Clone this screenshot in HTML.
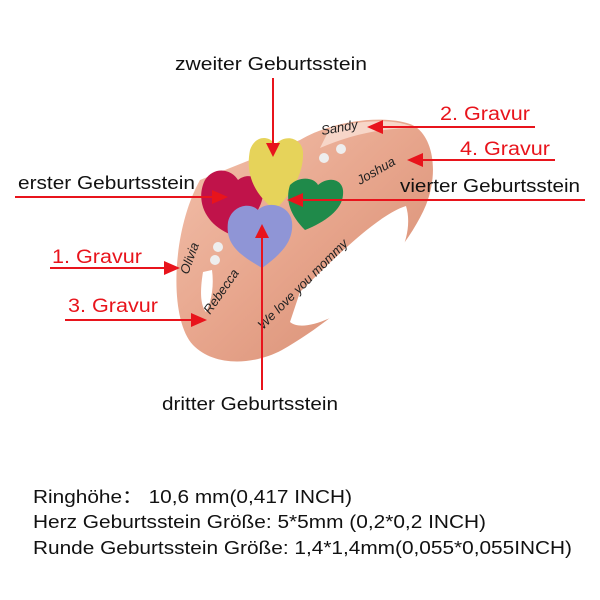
<!DOCTYPE html>
<html><head><meta charset="utf-8"><style>
html,body{margin:0;padding:0;background:#fff}
svg{display:block}
text{font-family:"Liberation Sans",sans-serif}
</style></head><body>
<svg width="600" height="600" viewBox="0 0 600 600">
<defs>
<linearGradient id="rg" x1="0" y1="0" x2="1" y2="1">
<stop offset="0" stop-color="#f3c2ad"/><stop offset="0.5" stop-color="#e7a58c"/><stop offset="1" stop-color="#d48a70"/>
</linearGradient>
</defs>
<path d="M200,180 C172,230 168,318 193,345 C213,366 252,366 282,350 C335,320 402,262 426,205 C440,170 432,132 410,124 C380,114 330,122 300,140 Z" fill="url(#rg)"/>
<path d="M300,292 C340,252 380,214 406,206 C414,232 400,270 362,300 C332,320 302,332 290,322 Z" fill="#fff"/>
<path d="M203,272 C200,290 200,305 206,312 C212,300 214,285 212,270 Z" fill="#fff"/>
<path d="M330,128 C370,118 400,120 415,128 C380,128 350,135 320,148 Z" fill="#f7d6c8"/>
<path d="M232,235 C205,225 195,200 205,180 C215,165 232,170 238,180 C250,170 268,180 262,200 C258,215 245,228 232,235Z" fill="#c0134a"/>
<path d="M275,210 C255,195 245,175 250,150 C255,135 270,135 275,145 C285,133 302,138 303,152 C304,175 290,195 275,210Z" fill="#e6d35a"/>
<path d="M305,230 C290,215 285,200 290,185 C300,175 315,178 318,185 C330,175 345,180 343,195 C342,210 325,222 305,230Z" fill="#1f8a4a"/>
<path d="M262,268 C240,255 225,245 228,222 C232,205 250,202 258,210 C268,200 290,205 292,222 C294,242 280,255 262,268Z" fill="#8f95d6"/>
<circle cx="215" cy="260" r="5" fill="#eee"/><circle cx="218" cy="247" r="5" fill="#eee"/>
<circle cx="324" cy="158" r="5" fill="#eee"/><circle cx="341" cy="149" r="5" fill="#eee"/>
<g fill="#222" font-family="Liberation Serif,serif" font-style="italic" font-size="13">
<text transform="translate(322,135) rotate(-10)">Sandy</text>
<text transform="translate(360,185) rotate(-30)">Joshua</text>
<text transform="translate(188,275) rotate(-70)">Olivia</text>
<text transform="translate(210,315) rotate(-55)">Rebecca</text>
<text transform="translate(263,330) rotate(-45)">We love you mommy</text>
</g>
<g stroke="#e8141c" stroke-width="2" fill="none">
<line x1="273" y1="78" x2="273" y2="150"/>
<line x1="262" y1="390" x2="262" y2="230"/>
<line x1="375" y1="127" x2="535" y2="127"/>
<line x1="415" y1="160" x2="555" y2="160"/>
<line x1="15" y1="197" x2="220" y2="197"/>
<line x1="295" y1="200" x2="585" y2="200"/>
<line x1="50" y1="268" x2="172" y2="268"/>
<line x1="65" y1="320" x2="200" y2="320"/>
</g>
<g fill="#e8141c">
<polygon points="266,143 280,143 273,157"/>
<polygon points="255,238 269,238 262,224"/>
<polygon points="367,127 383,120 383,134"/>
<polygon points="407,160 423,153 423,167"/>
<polygon points="228,197 212,190 212,204"/>
<polygon points="287,200 303,193 303,207"/>
<polygon points="180,268 164,261 164,275"/>
<polygon points="207,320 191,313 191,327"/>
</g>
<g font-size="18" fill="#111">
<text x="175" y="70" textLength="192" lengthAdjust="spacingAndGlyphs">zweiter Geburtsstein</text>
<text x="18" y="189" textLength="177" lengthAdjust="spacingAndGlyphs">erster Geburtsstein</text>
<text x="400" y="192" textLength="180" lengthAdjust="spacingAndGlyphs">vierter Geburtsstein</text>
<text x="162" y="410" textLength="176" lengthAdjust="spacingAndGlyphs">dritter Geburtsstein</text>
<text x="33" y="503" textLength="319" lengthAdjust="spacingAndGlyphs">Ringhöhe：  10,6 mm(0,417 INCH)</text>
<text x="33" y="528" textLength="453" lengthAdjust="spacingAndGlyphs">Herz Geburtsstein Größe: 5*5mm (0,2*0,2 INCH)</text>
<text x="33" y="554" textLength="539" lengthAdjust="spacingAndGlyphs">Runde Geburtsstein Größe: 1,4*1,4mm(0,055*0,055INCH)</text>
</g>
<g font-size="19" fill="#e8141c">
<text x="440" y="120" textLength="90" lengthAdjust="spacingAndGlyphs">2. Gravur</text>
<text x="460" y="155" textLength="90" lengthAdjust="spacingAndGlyphs">4. Gravur</text>
<text x="52" y="263" textLength="90" lengthAdjust="spacingAndGlyphs">1. Gravur</text>
<text x="68" y="312" textLength="90" lengthAdjust="spacingAndGlyphs">3. Gravur</text>
</g>
</svg>
</body></html>
